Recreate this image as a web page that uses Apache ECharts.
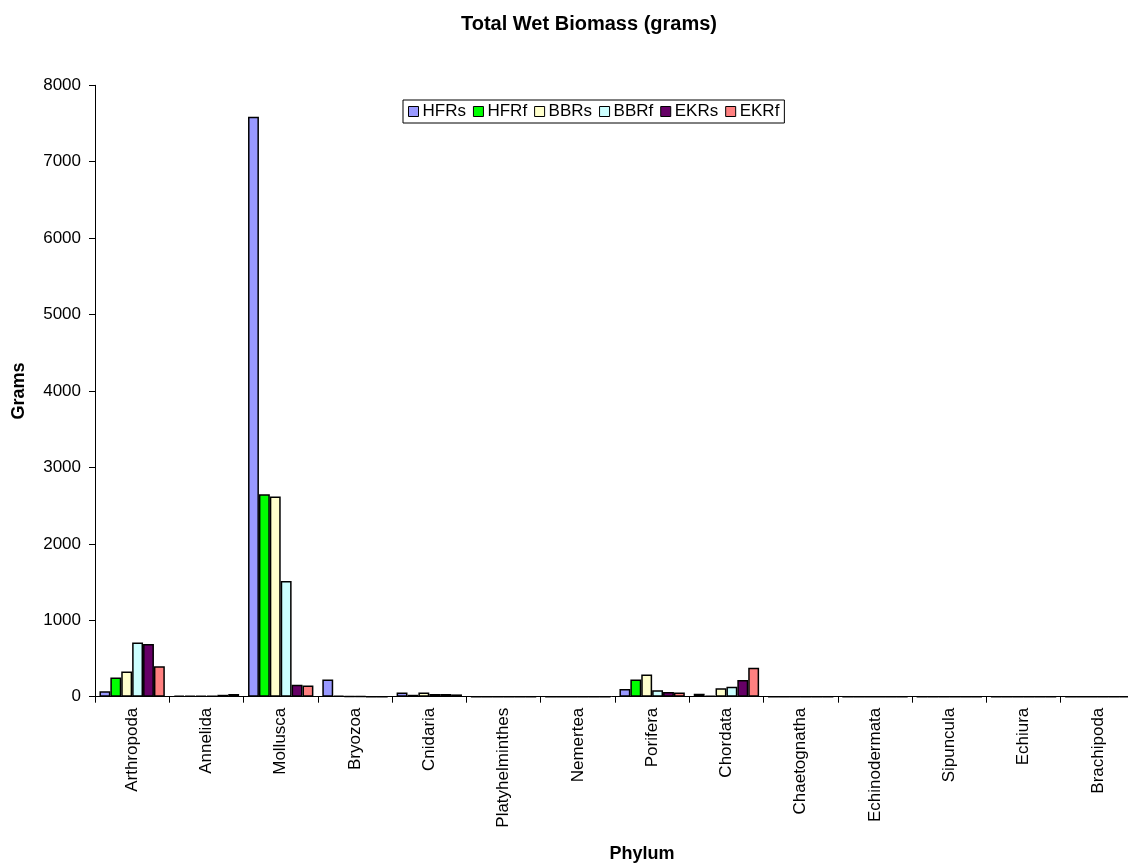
<!DOCTYPE html>
<html>
<head>
<meta charset="utf-8">
<script src="https://cdn.jsdelivr.net/npm/echarts@6/dist/echarts.min.js"></script>
<style>
html,body{margin:0;padding:0;background:#fff;}
#chart{width:1128px;height:865px;}
</style>
</head>
<body>
<div id="chart"></div>
<script>
const categories = ['Arthropoda','Annelida','Mollusca','Bryozoa','Cnidaria','Platyhelminthes','Nemertea','Porifera','Chordata','Chaetognatha','Echinodermata','Sipuncula','Echiura','Brachipoda'];
const seriesNames = ['HFRs','HFRf','BBRs','BBRf','EKRs','EKRf'];
const HFRs = [70, 15, 7590, 225, 55, 0, 0, 100, 40, 0, 0, 0, 0, 0];
const HFRf = [250, 10, 2650, 10, 25, 0, 0, 225, 15, 0, 0, 0, 0, 0];
const BBRs = [330, 10, 2620, 5, 55, 0, 0, 290, 110, 0, 0, 0, 0, 0];
const BBRf = [710, 10, 1515, 5, 35, 0, 0, 85, 130, 0, 0, 0, 0, 0];
const EKRs = [690, 25, 155, 0, 35, 0, 0, 60, 220, 0, 0, 0, 0, 0];
const EKRf = [400, 35, 145, 0, 30, 0, 0, 55, 380, 0, 0, 0, 0, 0];
const seriesValues = [HFRs, HFRf, BBRs, BBRf, EKRs, EKRf];
const colors = ['#9999FF','#00FF00','#FFFFCC','#CCFFFF','#660066','#FF8080'];
const yTicks = {min: 0, max: 8000, interval: 1000};

const FONT = 'Arial, "Liberation Sans", sans-serif';
const chart = echarts.init(document.getElementById('chart'));
chart.setOption({
  backgroundColor: '#fff',
  animation: false,
  color: colors,
  title: [
    {text: 'Total Wet Biomass (grams)', left: 584, top: 9, textAlign: 'center',
     textStyle: {fontFamily: FONT, fontSize: 20, fontWeight: 'bold', color: '#000'}},
    {text: 'Phylum', left: 637, top: 840, textAlign: 'center',
     textStyle: {fontFamily: FONT, fontSize: 18, fontWeight: 'bold', color: '#000'}}
  ],
  legend: {
    data: seriesNames,
    left: 403, top: 100,
    width: 400,
    borderColor: '#000', borderWidth: 1, borderRadius: 0,
    padding: [3, 5, 3, 5],
    itemWidth: 10, itemHeight: 10, itemGap: 7,
    icon: 'rect',
    itemStyle: {borderColor: '#000', borderWidth: 1},
    textStyle: {fontFamily: FONT, fontSize: 17, color: '#000', padding: [0,0,0,-1]}
  },
  grid: {left: 95, top: 85.3, width: 1040, height: 611.4, containLabel: false, outerBoundsMode: 'none'},
  xAxis: {
    type: 'category',
    data: categories,
    boundaryGap: true,
    axisLine: {lineStyle: {color: '#000', width: 1}},
    axisTick: {show: true, inside: false, length: 6, alignWithLabel: false, lineStyle: {color: '#000'}},
    axisLabel: {rotate: 90, interval: 0, margin: 11, fontFamily: FONT, fontSize: 17, color: '#000'},
    splitLine: {show: false}
  },
  yAxis: {
    type: 'value',
    min: yTicks.min, max: yTicks.max, interval: yTicks.interval,
    name: 'Grams', nameLocation: 'middle', nameRotate: 90, nameGap: 67,
    nameTextStyle: {fontFamily: FONT, fontSize: 18, fontWeight: 'bold', color: '#000'},
    axisLine: {show: true, lineStyle: {color: '#000', width: 1}},
    axisTick: {show: true, inside: false, length: 6, lineStyle: {color: '#000'}},
    axisLabel: {margin: 14, fontFamily: FONT, fontSize: 17, color: '#000', formatter: v => String(v)},
    splitLine: {show: false}
  },
  series: seriesNames.map((n, i) => ({
    name: n,
    type: 'bar',
    data: seriesValues[i],
    barGap: '0%',
    barCategoryGap: '12%',
    itemStyle: {color: colors[i], borderColor: '#000', borderWidth: 1.5}
  }))
});
</script>
</body>
</html>
